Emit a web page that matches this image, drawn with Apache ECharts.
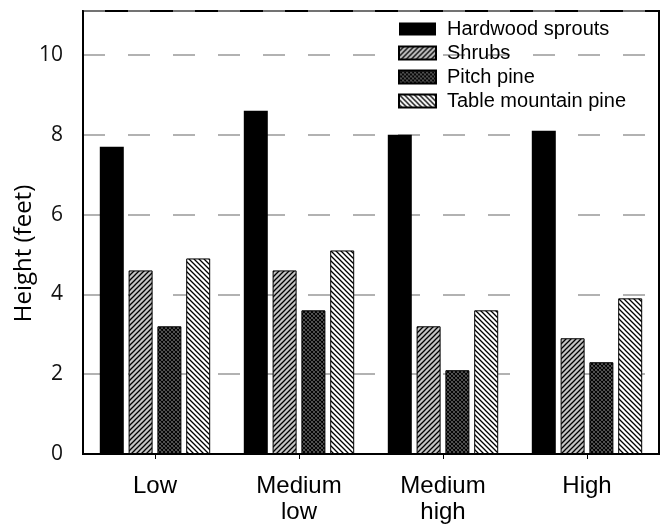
<!DOCTYPE html>
<html>
<head>
<meta charset="utf-8">
<script src="https://cdn.jsdelivr.net/npm/echarts@6/dist/echarts.min.js"></script>
<style>html,body{margin:0;padding:0;background:#fff}#c{width:665px;height:527px}</style>
</head>
<body>
<div id="c"></div>
<script>
// ---- data ----
var categories = ['Low', 'Medium\nlow', 'Medium\nhigh', 'High'];
var seriesNames = ['Hardwood sprouts', 'Shrubs', 'Pitch pine', 'Table mountain pine'];
var hardwood = [7.7, 8.6, 8.0, 8.1];
var shrubs = [4.6, 4.6, 3.2, 2.9];
var pitchPine = [3.2, 3.6, 2.1, 2.3];
var tableMountainPine = [4.9, 5.1, 3.6, 3.9];
var yTicks = [0, 2, 4, 6, 8, 10];

// ---- patterns ----
function hatch(bg, dir, p, lw) {
  var c = document.createElement('canvas');
  c.width = p; c.height = p;
  var g = c.getContext('2d');
  g.fillStyle = bg; g.fillRect(0, 0, p, p);
  g.strokeStyle = '#000'; g.lineWidth = lw;
  g.beginPath();
  if (dir === '/' || dir === 'x') {
    g.moveTo(-1, p + 1); g.lineTo(p + 1, -1);
    g.moveTo(-1, 1); g.lineTo(1, -1);
    g.moveTo(p - 1, p + 1); g.lineTo(p + 1, p - 1);
  }
  if (dir === '\\' || dir === 'x') {
    g.moveTo(-1, -1); g.lineTo(p + 1, p + 1);
    g.moveTo(p - 1, -1); g.lineTo(p + 1, 1);
    g.moveTo(-1, p - 1); g.lineTo(1, p + 1);
  }
  g.stroke();
  return { image: c, repeat: 'repeat' };
}
var fills = [
  '#000000',
  hatch('#c4c4c4', '/', 5, 1.3),
  hatch('#6e6e6e', 'x', 4, 1.1),
  hatch('#ffffff', '\\', 5, 1.3)
];
var datas = [hardwood, shrubs, pitchPine, tableMountainPine];

var chart = echarts.init(document.getElementById('c'), null, { renderer: 'canvas' });
var series = seriesNames.map(function (n, i) {
  return {
    name: n,
    type: 'bar',
    data: datas[i],
    barWidth: 24,
    barGap: '20%',
    itemStyle: { color: fills[i], borderColor: '#000', borderWidth: i === 0 ? 0 : 1 }
  };
});

chart.setOption({
  animation: false,
  backgroundColor: '#fff',
  grid: { left: 83, top: 11, right: 6, bottom: 73, show: true, borderColor: '#000', borderWidth: 2, backgroundColor: 'transparent', containLabel: false, outerBoundsMode: 'none' },
  legend: {
    orient: 'vertical',
    left: 393, top: 14,
    itemWidth: 37, itemHeight: 13, itemGap: 4,
    icon: 'rect',
    textStyle: { fontFamily: 'Liberation Sans', fontSize: 20, color: '#000', padding: [0, 0, 0, 6], lineHeight: 20 },
    data: seriesNames
  },
  xAxis: {
    type: 'category',
    data: categories,
    axisLine: { show: true, lineStyle: { color: '#000', width: 2 } },
    axisTick: { show: true, alignWithLabel: true, length: 5, lineStyle: { color: '#000', width: 1 } },
    axisLabel: { fontFamily: 'Liberation Sans', fontSize: 24, color: '#000', margin: 19, lineHeight: 26 }
  },
  yAxis: {
    type: 'value',
    min: 0, max: 11.1, interval: 2,
    name: 'Height (feet)',
    nameLocation: 'middle',
    nameGap: 47,
    nameMoveOverlap: false,
    nameTextStyle: { fontFamily: 'Open Sans', fontSize: 24, color: '#000', padding: [0, 42, 0, 0] },
    axisLine: { show: true, onZero: false, lineStyle: { color: '#000', width: 2 } },
    axisTick: { show: false },
    axisLabel: {
      fontFamily: 'Open Sans', fontSize: 21, color: '#111', margin: 20,
      showMaxLabel: false,
      formatter: function (v) { return yTicks.indexOf(v) >= 0 ? String(v) : ''; }
    },
    splitLine: { show: true, lineStyle: { color: '#999', width: 1.5, type: [22, 23] } }
  },
  series: series
});
</script>
</body>
</html>
